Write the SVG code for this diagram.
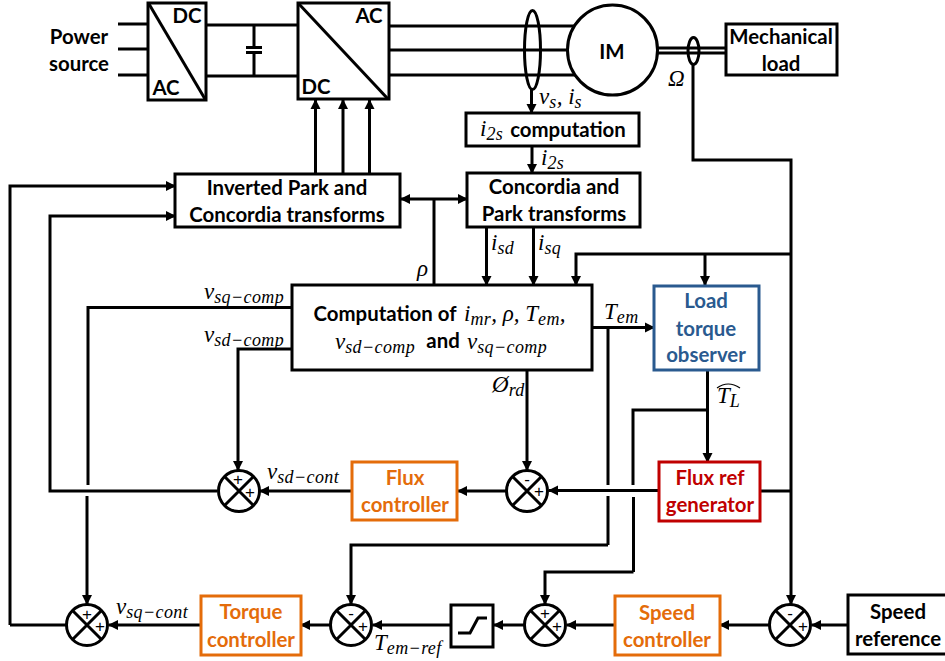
<svg xmlns="http://www.w3.org/2000/svg" width="945" height="661" viewBox="0 0 945 661">
<style>
.w{fill:none;stroke:#000;stroke-width:3}
.a{marker-end:url(#ah)}
.b{fill:#fff;stroke:#000;stroke-width:3}
.bo{fill:#fff;stroke:#E46C0A;stroke-width:3}
.bb{fill:#fff;stroke:#2A5A8F;stroke-width:3}
.br{fill:#fff;stroke:#C00000;stroke-width:3}
text{font-family:Lato,"Open Sans",sans-serif;font-weight:700;font-size:20.400px;text-anchor:middle;fill:#000}
.o{fill:#E46C0A}.bl{fill:#2A5A8F}.r{fill:#C00000}
.m{font-family:"Liberation Serif",serif;font-style:italic;font-weight:400;font-size:23px;text-anchor:start}
.m .u{font-size:18px;letter-spacing:.4px}
.m .n{font-size:23px}
.s{font-family:"Liberation Sans",sans-serif;font-weight:400;font-size:17px}
</style>
<defs>
<marker id="ah" markerUnits="userSpaceOnUse" markerWidth="11" markerHeight="11" refX="9" refY="5.5" orient="auto-start-reverse"><path d="M0 0.5L10 5.5L0 10.5z" fill="#000"/></marker>
<g id="sum"><circle r="20.5" fill="#fff" stroke="#000" stroke-width="3"/><path d="M-14.5 -14.5L14.5 14.5M-14.5 14.5L14.5 -14.5" stroke="#000" stroke-width="3"/></g>
</defs>
<g id="connectors">
<path class="w" d="M118 24H148M118 49H148M118 75H148M206 25H297M206 76H297M254 25V47M254 52V76M389 26H575M389 50H570M389 75H575M657 48H726M657 53H726"/>
<path d="M246 47.500H262M246 52.500H262" stroke="#000" stroke-width="3"/>
<path class="w a" d="M315.500 173V100"/>
<path class="w a" d="M343 173V100"/>
<path class="w a" d="M369.500 173V100"/>
<path class="w a" d="M10 625V186H175"/>
<path class="w" d="M87 625H10"/>
<path class="w a" d="M217 491H50V216H175"/>
<path class="w a" style="marker-start:url(#ah)" d="M401 199H467"/>
<path class="w" d="M434 199V285"/>
<path class="w a" d="M531.500 89V113"/>
<path class="w a" d="M532 146V173"/>
<path class="w a" d="M486.500 227V285"/>
<path class="w a" d="M533.500 227V285"/>
<path class="w a" d="M791 254H576V285"/>
<path class="w a" d="M705 254V285"/>
<path class="w a" d="M693 64V160H791V604"/>
<path class="w a" d="M592 327.500H654"/>
<path class="w" d="M608 327.500V485M608 496V545"/>
<path class="w a" d="M608 545H351V604"/>
<path class="w a" d="M707.500 370V462"/>
<path class="w" d="M707 410H633V485M633.500 497V572"/>
<path class="w a" d="M633.500 572H545V604"/>
<path class="w a" d="M659 490.500H549"/>
<path class="w" d="M760 491H791"/>
<path class="w a" d="M527 370V470"/>
<path class="w a" d="M507 491H458"/>
<path class="w a" d="M352 491H260"/>
<path class="w a" d="M292 349H238V470"/>
<path class="w" d="M292 307.500H88V485"/>
<path class="w a" d="M87 496V604"/>
<path class="w a" d="M848 625H812"/>
<path class="w a" d="M770 625H720"/>
<path class="w a" d="M615 625H567"/>
<path class="w a" d="M525 625H494"/>
<path class="w a" d="M451 625H373"/>
<path class="w a" d="M331 625H301"/>
<path class="w a" d="M201 625H109"/>
</g>
<text x="79" y="44">Power</text>
<text x="79" y="71">source</text>
<g id="ac-dc"><rect class="b" x="148" y="3" width="58" height="97"/><path class="w" d="M149 4L205 99"/><text x="187" y="23">DC</text><text x="166" y="95">AC</text></g>
<g id="dc-ac"><rect class="b" x="298" y="3" width="91" height="96"/><path class="w" d="M299 4L388 99"/><text x="369" y="23">AC</text><text x="316" y="94">DC</text></g>
<g id="im"><circle class="b" cx="612.500" cy="50" r="45"/><text x="612" y="59">IM</text></g>
<ellipse class="w" cx="532.500" cy="50" rx="8" ry="39.500"/>
<ellipse class="w" cx="693.500" cy="51" rx="5.500" ry="13.500"/>
<g id="load"><rect class="b" x="726" y="24" width="111" height="51"/><text x="781" y="44">Mechanical</text><text x="781" y="71">load</text></g>
<g id="i2s"><rect class="b" x="466" y="113" width="173" height="33"/><text class="m" x="480" y="136">i<tspan class="u" dy="4">2s</tspan></text><text x="568" y="137">computation</text></g>
<g id="inv"><rect class="b" x="175" y="174" width="225" height="53"/><text x="287" y="195">Inverted Park and</text><text x="287" y="222">Concordia transforms</text></g>
<g id="park"><rect class="b" x="467" y="173" width="173" height="54"/><text x="554" y="194">Concordia and</text><text x="554" y="221">Park transforms</text></g>
<g id="comp"><rect class="b" x="292" y="285" width="300" height="85"/><text x="385" y="321">Computation of</text><text class="m" x="464" y="321">i<tspan class="u" dy="4">mr</tspan><tspan class="n" dy="-4">, ρ, T</tspan><tspan class="u" dy="4">em</tspan><tspan class="n" dy="-4">,</tspan></text><text class="m" x="335" y="349">v<tspan class="u" dy="4">sd−comp</tspan></text><text x="443" y="348">and</text><text class="m" x="467" y="349">v<tspan class="u" dy="4">sq−comp</tspan></text></g>
<g id="observer"><rect class="bb" x="654" y="286" width="105" height="84"/><text class="bl" x="706" y="308">Load</text><text class="bl" x="706" y="336">torque</text><text class="bl" x="706" y="362">observer</text></g>
<g id="fluxref"><rect class="br" x="659" y="462" width="101" height="59"/><text class="r" x="710" y="485">Flux ref</text><text class="r" x="710" y="512">generator</text></g>
<g id="fluxc"><rect class="bo" x="352" y="462" width="105" height="58"/><text class="o" x="405" y="485">Flux</text><text class="o" x="405" y="512">controller</text></g>
<g id="torquec"><rect class="bo" x="201" y="596" width="100" height="59"/><text class="o" x="251" y="619">Torque</text><text class="o" x="251" y="647">controller</text></g>
<g id="speedc"><rect class="bo" x="615" y="596" width="105" height="59"/><text class="o" x="667" y="620">Speed</text><text class="o" x="667" y="647">controller</text></g>
<g id="speedref"><rect class="b" x="848" y="595" width="110" height="59"/><text x="898" y="619">Speed</text><text x="898" y="646">reference</text></g>
<g id="limiter"><rect class="b" x="451" y="605" width="42" height="42"/><path class="w" d="M458 633H470L478 618H487"/></g>
<g id="s1"><use href="#sum" x="239" y="491"/><text class="s" x="238" y="485">+</text><text class="s" x="250" y="498">+</text></g>
<g id="s2"><use href="#sum" x="527" y="491"/><text class="s" x="527" y="485">-</text><text class="s" x="539" y="497">+</text></g>
<g id="s3"><use href="#sum" x="87" y="625"/><text class="s" x="87" y="620">+</text><text class="s" x="100" y="632">+</text></g>
<g id="s4"><use href="#sum" x="351" y="625"/><text class="s" x="351" y="619">-</text><text class="s" x="363" y="632">+</text></g>
<g id="s5"><use href="#sum" x="545" y="625"/><text class="s" x="545" y="619">+</text><text class="s" x="557" y="632">+</text></g>
<g id="s6"><use href="#sum" x="790" y="625"/><text class="s" x="790" y="619">-</text><text class="s" x="803" y="632">+</text></g>
<g id="labels">
<text class="m" x="668" y="86">Ω</text>
<text class="m" x="539" y="104">v<tspan class="u" dy="4">s</tspan><tspan class="n" dy="-4">, i</tspan><tspan class="u" dy="4">s</tspan></text>
<text class="m" x="541" y="165">i<tspan class="u" dy="4">2s</tspan></text>
<text class="m" x="491" y="250">i<tspan class="u" dy="4">sd</tspan></text>
<text class="m" x="538" y="250">i<tspan class="u" dy="4">sq</tspan></text>
<text class="m" x="417" y="276">ρ</text>
<text class="m" x="204" y="299">v<tspan class="u" dy="4">sq−comp</tspan></text>
<text class="m" x="204" y="342">v<tspan class="u" dy="4">sd−comp</tspan></text>
<text class="m" x="604" y="319">T<tspan class="u" dy="4">em</tspan></text>
<text class="m" x="492" y="392">Ø<tspan class="u" dy="4">rd</tspan></text>
<text class="m" x="717" y="403">T<tspan class="u" dy="4">L</tspan></text>
<path d="M717 388Q728 380 740 388" fill="none" stroke="#000" stroke-width="1.200"/>
<text class="m" x="267" y="479">v<tspan class="u" dy="4">sd−cont</tspan></text>
<text class="m" x="116" y="614">v<tspan class="u" dy="4">sq−cont</tspan></text>
<text class="m" x="374" y="650">T<tspan class="u" dy="4">em−ref</tspan></text>
</g>
</svg>
